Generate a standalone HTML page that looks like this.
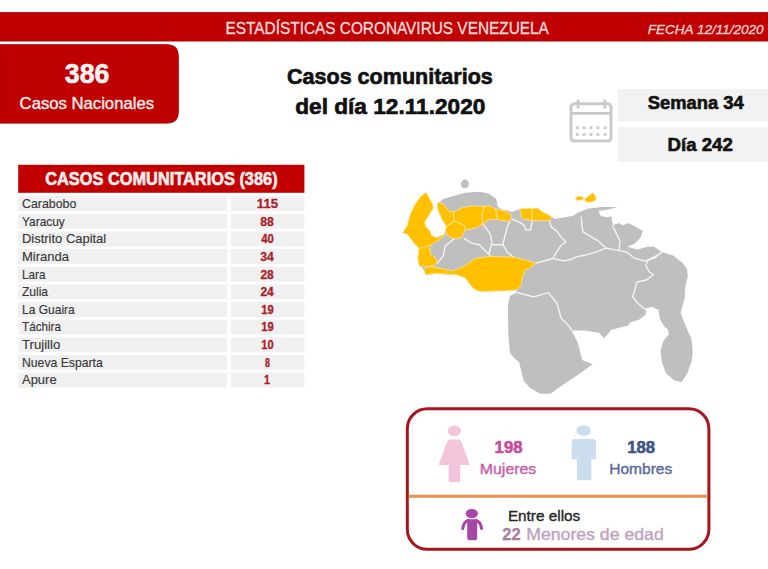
<!DOCTYPE html><html><head><meta charset="utf-8"><style>html,body{margin:0;padding:0;background:#fff;}svg{display:block;}text{font-family:"Liberation Sans",sans-serif;}</style></head><body>
<svg width="768" height="569" viewBox="0 0 768 569">
<rect x="0" y="0" width="768" height="569" fill="#FFFFFF"/>
<rect x="0" y="12.3" width="768" height="29" fill="#C00000"/>
<rect x="0" y="12.3" width="768" height="1.4" fill="#A80A0A"/>
<rect x="0" y="39.9" width="768" height="1.4" fill="#A80A0A"/>
<path d="M0,44.7 H167.3 Q178.3,44.7 178.3,55.7 V112.1 Q178.3,123.1 167.3,123.1 H0 Z" fill="#BF0000" stroke="#B00606" stroke-width="1"/>
<rect x="617.8" y="89.1" width="150.2" height="32.5" fill="#F2F2F2"/>
<rect x="617.8" y="127.2" width="150.2" height="34.6" fill="#F2F2F2"/>
<g fill="none" stroke="#CACACA" stroke-width="3"><rect x="571" y="103.8" width="40" height="37.3" rx="3.5"/><line x1="571" y1="113.4" x2="611" y2="113.4" stroke-width="2.8"/><line x1="578.1" y1="99.7" x2="578.1" y2="108.5"/><line x1="604.7" y1="99.7" x2="604.7" y2="108.5"/></g><g fill="#CDCDCD">
<rect x="575.70" y="126.20" width="3" height="3" rx="0.5"/>
<rect x="575.70" y="133.10" width="3" height="3" rx="0.5"/>
<rect x="582.50" y="126.20" width="3" height="3" rx="0.5"/>
<rect x="582.50" y="133.10" width="3" height="3" rx="0.5"/>
<rect x="589.50" y="126.20" width="3" height="3" rx="0.5"/>
<rect x="589.50" y="133.10" width="3" height="3" rx="0.5"/>
<rect x="596.40" y="126.20" width="3" height="3" rx="0.5"/>
<rect x="596.40" y="133.10" width="3" height="3" rx="0.5"/>
<rect x="603.70" y="126.20" width="3" height="3" rx="0.5"/>
<rect x="603.70" y="133.10" width="3" height="3" rx="0.5"/>
</g>
<rect x="18.2" y="164.8" width="286.2" height="28" fill="#C20000"/>
<rect x="18.3" y="196.20" width="208.7" height="14.9" fill="#F0F0F0"/>
<rect x="230.8" y="196.20" width="73.6" height="14.9" fill="#F0F0F0"/>
<rect x="18.3" y="213.84" width="208.7" height="14.9" fill="#F0F0F0"/>
<rect x="230.8" y="213.84" width="73.6" height="14.9" fill="#F0F0F0"/>
<rect x="18.3" y="231.48" width="208.7" height="14.9" fill="#F0F0F0"/>
<rect x="230.8" y="231.48" width="73.6" height="14.9" fill="#F0F0F0"/>
<rect x="18.3" y="249.12" width="208.7" height="14.9" fill="#F0F0F0"/>
<rect x="230.8" y="249.12" width="73.6" height="14.9" fill="#F0F0F0"/>
<rect x="18.3" y="266.76" width="208.7" height="14.9" fill="#F0F0F0"/>
<rect x="230.8" y="266.76" width="73.6" height="14.9" fill="#F0F0F0"/>
<rect x="18.3" y="284.40" width="208.7" height="14.9" fill="#F0F0F0"/>
<rect x="230.8" y="284.40" width="73.6" height="14.9" fill="#F0F0F0"/>
<rect x="18.3" y="302.04" width="208.7" height="14.9" fill="#F0F0F0"/>
<rect x="230.8" y="302.04" width="73.6" height="14.9" fill="#F0F0F0"/>
<rect x="18.3" y="319.68" width="208.7" height="14.9" fill="#F0F0F0"/>
<rect x="230.8" y="319.68" width="73.6" height="14.9" fill="#F0F0F0"/>
<rect x="18.3" y="337.32" width="208.7" height="14.9" fill="#F0F0F0"/>
<rect x="230.8" y="337.32" width="73.6" height="14.9" fill="#F0F0F0"/>
<rect x="18.3" y="354.96" width="208.7" height="14.9" fill="#F0F0F0"/>
<rect x="230.8" y="354.96" width="73.6" height="14.9" fill="#F0F0F0"/>
<rect x="18.3" y="372.60" width="208.7" height="14.9" fill="#F0F0F0"/>
<rect x="230.8" y="372.60" width="73.6" height="14.9" fill="#F0F0F0"/>
<polygon points="426.0,192.4 432.2,203.3 433.4,207.8 429.5,214.3 424.7,222.0 425.6,226.0 430.5,231.8 431.4,235.6 436.3,237.6 442.0,235.6 444.3,234.5 445.4,230.4 446.4,226.2 442.2,220.0 438.1,210.6 437.0,204.3 439.1,202.2 443.3,199.0 451.6,196.5 465.2,192.7 479.8,191.7 489.2,193.8 496.4,199.0 497.5,206.2 501.7,209.4 508.0,210.4 512.0,212.0 519.5,208.9 537.8,208.2 541.7,211.5 552.0,216.7 554.3,219.0 573.2,215.8 578.0,212.6 588.6,208.6 601.5,206.9 617.2,206.9 608.7,209.5 598.6,210.9 600.0,215.2 605.8,217.3 611.5,216.6 613.0,225.2 618.7,223.0 623.0,225.2 628.7,223.0 643.0,231.0 640.2,238.1 634.4,243.8 627.3,246.7 637.3,249.6 647.3,246.7 653.7,246.6 661.6,252.1 672.7,255.3 682.2,262.4 687.0,268.7 687.8,276.6 685.4,286.1 684.6,298.8 682.2,306.7 680.6,313.0 683.8,321.0 687.0,328.9 688.6,332.7 691.4,338.3 692.8,352.3 691.4,362.2 687.2,373.4 681.6,382.0 674.5,380.5 666.1,373.4 661.9,362.2 660.5,351.0 663.3,341.0 669.0,334.0 667.5,328.4 664.8,327.3 660.0,319.4 658.5,309.9 652.2,306.7 645.8,308.3 645.8,314.6 639.5,319.4 630.0,322.5 628.1,325.6 611.3,329.8 604.2,338.3 599.0,332.7 584.3,330.6 571.7,330.6 578.0,343.2 582.2,360.0 592.7,364.3 578.0,374.8 559.0,387.5 550.6,393.8 540.0,393.8 529.5,387.5 523.7,380.5 519.0,362.0 514.0,358.0 509.9,352.9 508.4,334.8 507.9,305.4 510.0,296.0 516.6,292.5 516.6,289.9 504.8,290.8 479.4,291.6 473.0,288.3 465.2,277.7 456.5,274.8 446.9,274.3 437.2,273.3 425.6,274.8 423.7,269.0 419.3,266.1 417.9,259.3 418.9,248.7 415.1,244.4 411.7,239.8 407.1,234.1 402.6,233.0 407.1,226.1 408.3,221.5 410.6,213.5 415.1,204.4 420.8,196.4" fill="#BFBFBF"/>
<polygon points="464.2,179.2 462.2,180.8 460.9,183.5 461.4,186.6 463.3,188.3 466.5,188.0 468.6,186.0 469.0,182.6 466.8,180.0" fill="#BFBFBF"/>
<polyline points="454.4,238.4 445.0,246.2 443.4,255.6 437.2,263.4" fill="none" stroke="#F4F4F4" stroke-width="1.4" stroke-linejoin="round"/>
<polyline points="463.8,238.4 471.6,243.1 479.4,244.7 484.0,249.4 488.8,254.0 490.3,256.4" fill="none" stroke="#F4F4F4" stroke-width="1.4" stroke-linejoin="round"/>
<polyline points="482.9,224.1 490.3,233.8 491.9,243.1 488.8,254.0" fill="none" stroke="#F4F4F4" stroke-width="1.4" stroke-linejoin="round"/>
<polyline points="491.9,244.7 502.8,244.7 507.5,226.0 510.0,221.2" fill="none" stroke="#F4F4F4" stroke-width="1.4" stroke-linejoin="round"/>
<polyline points="502.8,244.7 507.5,252.5 513.8,257.2" fill="none" stroke="#F4F4F4" stroke-width="1.4" stroke-linejoin="round"/>
<polyline points="511.5,219.0 519.5,222.1 524.2,225.3 525.8,230.0 530.6,230.0 532.1,220.6" fill="none" stroke="#F4F4F4" stroke-width="1.4" stroke-linejoin="round"/>
<polyline points="549.5,220.6 551.1,226.9 557.4,231.6 560.6,236.4 566.1,241.9 560.6,245.8 556.6,252.2 552.7,258.5 535.6,263.4" fill="none" stroke="#F4F4F4" stroke-width="1.4" stroke-linejoin="round"/>
<polyline points="552.7,258.5 563.8,260.9 571.7,259.3 576.4,256.9 584.3,255.3 595.4,252.2 606.4,248.2" fill="none" stroke="#F4F4F4" stroke-width="1.4" stroke-linejoin="round"/>
<polyline points="581.1,216.6 582.7,231.6 590.6,236.4 598.5,241.1 601.7,244.3 606.4,248.2" fill="none" stroke="#F4F4F4" stroke-width="1.4" stroke-linejoin="round"/>
<polyline points="606.4,248.2 619.1,250.6 627.0,252.2 634.4,258.2 644.5,261.0 654.5,258.2 661.6,252.1" fill="none" stroke="#F4F4F4" stroke-width="1.4" stroke-linejoin="round"/>
<polyline points="619.1,250.6 620.0,241.0 613.0,226.7 613.0,225.2" fill="none" stroke="#F4F4F4" stroke-width="1.4" stroke-linejoin="round"/>
<polyline points="661.6,252.1 658.5,254.5 648.2,260.2 645.6,265.4 649.5,272.0 653.4,274.5 646.9,279.7 636.5,282.3 635.2,288.9 632.6,296.7 637.8,303.2 645.8,310.0" fill="none" stroke="#F4F4F4" stroke-width="1.4" stroke-linejoin="round"/>
<polyline points="516.6,292.5 533.7,296.9 548.5,292.6 557.0,303.2 561.0,318.0 569.5,326.4 571.7,330.6" fill="none" stroke="#F4F4F4" stroke-width="1.4" stroke-linejoin="round"/>
<polygon points="426.0,192.4 432.2,203.3 433.4,207.8 429.5,214.3 424.7,222.0 425.6,226.0 430.5,231.8 431.4,235.6 436.3,237.6 442.0,235.6 445.0,234.5 443.4,236.9 435.7,242.0 428.8,246.6 420.8,248.9 415.1,244.4 411.7,239.8 407.1,234.1 402.6,233.0 407.1,226.1 408.3,221.5 410.6,213.5 415.1,204.4 420.8,196.4" fill="#FFC000" stroke="#FCE28A" stroke-width="0.9" stroke-linejoin="round"/>
<polygon points="418.9,248.7 429.5,245.8 430.5,254.5 435.3,257.4 437.2,262.2 434.3,265.6 429.5,266.1 419.3,266.1 417.9,259.3" fill="#FFC000" stroke="#FCE28A" stroke-width="0.9" stroke-linejoin="round"/>
<polygon points="423.7,269.0 429.5,266.6 439.2,268.0 451.7,270.9 460.4,268.0 467.2,264.2 475.0,258.4 490.3,256.4 513.8,257.2 532.5,261.9 535.6,263.4 528.5,268.8 525.8,269.6 522.6,275.9 521.1,285.4 516.6,289.9 504.8,290.8 479.4,291.6 473.0,288.3 465.2,277.7 456.5,274.8 446.9,274.3 437.2,273.3 425.6,274.8" fill="#FFC000" stroke="#FCE28A" stroke-width="0.9" stroke-linejoin="round"/>
<polygon points="439.1,202.2 443.3,204.3 448.5,210.6 453.4,212.2 456.8,210.6 463.0,207.5 472.5,205.9 482.9,206.4 490.2,205.9 494.3,208.5 500.6,210.1 506.8,211.6 510.5,214.2 511.5,218.9 508.9,221.0 500.6,220.5 496.4,218.9 488.0,220.0 482.9,224.1 477.7,227.2 470.4,229.3 465.2,229.3 463.6,233.5 461.0,237.7 453.7,238.7 447.5,235.6 445.4,230.4 446.4,226.2 442.2,220.0 438.1,210.6 437.0,204.3" fill="#FFC000" stroke="#FCE28A" stroke-width="0.9" stroke-linejoin="round"/>
<polygon points="519.5,208.9 537.8,208.2 541.7,211.5 552.0,216.7 549.5,220.6 540.0,220.6 532.1,220.6 522.0,218.5" fill="#FFC000" stroke="#FCE28A" stroke-width="0.9" stroke-linejoin="round"/>
<polygon points="575.4,198.0 578.0,196.0 582.7,197.0 584.0,199.0 580.0,200.3 576.0,200.0" fill="#FFC000" stroke="#FCE28A" stroke-width="0.9" stroke-linejoin="round"/>
<polygon points="584.0,200.0 586.5,197.5 590.0,195.0 592.6,192.8 595.5,196.0 596.2,199.5 592.0,202.0 587.0,202.2" fill="#FFC000" stroke="#FCE28A" stroke-width="0.9" stroke-linejoin="round"/>
<polyline points="453.4,212.2 454.2,221.0 446.4,226.2" fill="none" stroke="#FCE28A" stroke-width="1.1" stroke-linejoin="round"/>
<polyline points="454.2,221.0 464.1,225.2 465.2,229.3" fill="none" stroke="#FCE28A" stroke-width="1.1" stroke-linejoin="round"/>
<polyline points="483.9,206.4 481.8,216.8 482.9,224.1" fill="none" stroke="#FCE28A" stroke-width="1.1" stroke-linejoin="round"/>
<polyline points="495.4,208.5 497.5,217.9 496.4,218.9" fill="none" stroke="#FCE28A" stroke-width="1.1" stroke-linejoin="round"/>
<polyline points="532.1,208.5 532.1,220.6" fill="none" stroke="#FCE28A" stroke-width="1.1" stroke-linejoin="round"/>
<rect x="407.3" y="408.8" width="301.6" height="140.5" rx="20" fill="none" stroke="#A8141C" stroke-width="3"/>
<line x1="408.8" y1="496.3" x2="707.4" y2="496.3" stroke="#E8904F" stroke-width="3"/>
<g fill="#F4C4DA"><ellipse cx="454.4" cy="430.8" rx="6.6" ry="5.2"/><path d="M449.5,439.5 H458.5 Q460.5,439.5 461.3,441.5 L469.8,465 H460.2 V482.2 H448.7 V465 H438.6 L447.2,441.5 Q448,439.5 449.5,439.5 Z"/></g>
<g fill="#CADEEE"><ellipse cx="583.6" cy="430.6" rx="7.1" ry="5.3"/><path d="M575,439 H592.5 Q596.1,439 596.1,442.5 V459.3 H591.3 V480.2 H577 V459.3 H571.6 V442.5 Q571.6,439 575,439 Z"/></g>
<g fill="#A747A8"><ellipse cx="471.8" cy="513.6" rx="6.1" ry="4.7"/><path d="M467.2,519.2 H477.2 V537.8 Q477.2,540.3 474.7,540.3 H469.7 Q467.2,540.3 467.2,537.8 Z"/></g><path d="M468.5,520.5 Q463.6,521.5 462.8,528.6 M475.8,520.5 Q480.7,521.5 481.6,528.6" fill="none" stroke="#A747A8" stroke-width="3" stroke-linecap="round"/>
<text x="225.60" y="33.70" font-size="17.4" font-weight="normal" font-style="normal" fill="#F8DCDC" stroke="#F8DCDC" stroke-width="0.35" textLength="323.20" lengthAdjust="spacingAndGlyphs">ESTADÍSTICAS CORONAVIRUS VENEZUELA</text>
<text x="647.80" y="33.60" font-size="13.5" font-weight="normal" font-style="italic" fill="#F5CFCF" stroke="#F5CFCF" stroke-width="0.35" textLength="115.80" lengthAdjust="spacingAndGlyphs">FECHA 12/11/2020</text>
<text x="64.80" y="83.00" font-size="27.5" font-weight="bold" font-style="normal" fill="#FFF3F3" stroke="#FFF3F3" stroke-width="0.6" textLength="44.60" lengthAdjust="spacingAndGlyphs">386</text>
<text x="19.60" y="108.80" font-size="17" font-weight="normal" font-style="normal" fill="#FCEBEB" stroke="#FCEBEB" stroke-width="0.4" textLength="134.40" lengthAdjust="spacingAndGlyphs">Casos Nacionales</text>
<text x="287.00" y="83.60" font-size="22" font-weight="bold" font-style="normal" fill="#111111" stroke="#111111" stroke-width="0.65" textLength="205.80" lengthAdjust="spacingAndGlyphs">Casos comunitarios</text>
<text x="295.20" y="114.40" font-size="22" font-weight="bold" font-style="normal" fill="#111111" stroke="#111111" stroke-width="0.65" textLength="190.20" lengthAdjust="spacingAndGlyphs">del día 12.11.2020</text>
<text x="647.80" y="109.40" font-size="18" font-weight="bold" font-style="normal" fill="#111111" stroke="#111111" stroke-width="0.6" textLength="95.80" lengthAdjust="spacingAndGlyphs">Semana 34</text>
<text x="667.60" y="151.40" font-size="18.5" font-weight="bold" font-style="normal" fill="#111111" stroke="#111111" stroke-width="0.6" textLength="65.20" lengthAdjust="spacingAndGlyphs">Día 242</text>
<text x="45.20" y="185.30" font-size="17.5" font-weight="bold" font-style="normal" fill="#FBEDED" stroke="#FBEDED" stroke-width="0.6" textLength="232.40" lengthAdjust="spacingAndGlyphs">CASOS COMUNITARIOS (386)</text>
<text x="22.00" y="208.00" font-size="12.2" font-weight="normal" font-style="normal" fill="#383838" stroke="#383838" stroke-width="0.15" textLength="54.40" lengthAdjust="spacingAndGlyphs">Carabobo</text>
<text x="256.80" y="208.00" font-size="12.6" font-weight="bold" font-style="normal" fill="#A91F2C" stroke="#A91F2C" stroke-width="0.3" textLength="21.20" lengthAdjust="spacingAndGlyphs">115</text>
<text x="22.00" y="225.64" font-size="12.2" font-weight="normal" font-style="normal" fill="#383838" stroke="#383838" stroke-width="0.15" textLength="42.80" lengthAdjust="spacingAndGlyphs">Yaracuy</text>
<text x="260.20" y="225.64" font-size="12.6" font-weight="bold" font-style="normal" fill="#A91F2C" stroke="#A91F2C" stroke-width="0.3" textLength="13.60" lengthAdjust="spacingAndGlyphs">88</text>
<text x="22.00" y="243.28" font-size="12.2" font-weight="normal" font-style="normal" fill="#383838" stroke="#383838" stroke-width="0.15" textLength="84.20" lengthAdjust="spacingAndGlyphs">Distrito Capital</text>
<text x="261.20" y="243.28" font-size="12.6" font-weight="bold" font-style="normal" fill="#A91F2C" stroke="#A91F2C" stroke-width="0.3" textLength="12.60" lengthAdjust="spacingAndGlyphs">40</text>
<text x="22.00" y="260.92" font-size="12.2" font-weight="normal" font-style="normal" fill="#383838" stroke="#383838" stroke-width="0.15" textLength="47.00" lengthAdjust="spacingAndGlyphs">Miranda</text>
<text x="260.20" y="260.92" font-size="12.6" font-weight="bold" font-style="normal" fill="#A91F2C" stroke="#A91F2C" stroke-width="0.3" textLength="13.60" lengthAdjust="spacingAndGlyphs">34</text>
<text x="22.00" y="278.56" font-size="12.2" font-weight="normal" font-style="normal" fill="#383838" stroke="#383838" stroke-width="0.15" textLength="23.40" lengthAdjust="spacingAndGlyphs">Lara</text>
<text x="260.40" y="278.56" font-size="12.6" font-weight="bold" font-style="normal" fill="#A91F2C" stroke="#A91F2C" stroke-width="0.3" textLength="13.40" lengthAdjust="spacingAndGlyphs">28</text>
<text x="22.00" y="296.20" font-size="12.2" font-weight="normal" font-style="normal" fill="#383838" stroke="#383838" stroke-width="0.15" textLength="26.00" lengthAdjust="spacingAndGlyphs">Zulia</text>
<text x="260.40" y="296.20" font-size="12.6" font-weight="bold" font-style="normal" fill="#A91F2C" stroke="#A91F2C" stroke-width="0.3" textLength="13.40" lengthAdjust="spacingAndGlyphs">24</text>
<text x="22.00" y="313.84" font-size="12.2" font-weight="normal" font-style="normal" fill="#383838" stroke="#383838" stroke-width="0.15" textLength="52.80" lengthAdjust="spacingAndGlyphs">La Guaira</text>
<text x="261.20" y="313.84" font-size="12.6" font-weight="bold" font-style="normal" fill="#A91F2C" stroke="#A91F2C" stroke-width="0.3" textLength="12.40" lengthAdjust="spacingAndGlyphs">19</text>
<text x="22.00" y="331.48" font-size="12.2" font-weight="normal" font-style="normal" fill="#383838" stroke="#383838" stroke-width="0.15" textLength="39.00" lengthAdjust="spacingAndGlyphs">Táchira</text>
<text x="261.20" y="331.48" font-size="12.6" font-weight="bold" font-style="normal" fill="#A91F2C" stroke="#A91F2C" stroke-width="0.3" textLength="12.40" lengthAdjust="spacingAndGlyphs">19</text>
<text x="22.00" y="349.12" font-size="12.2" font-weight="normal" font-style="normal" fill="#383838" stroke="#383838" stroke-width="0.15" textLength="38.20" lengthAdjust="spacingAndGlyphs">Trujillo</text>
<text x="261.20" y="349.12" font-size="12.6" font-weight="bold" font-style="normal" fill="#A91F2C" stroke="#A91F2C" stroke-width="0.3" textLength="12.40" lengthAdjust="spacingAndGlyphs">10</text>
<text x="22.00" y="366.76" font-size="12.2" font-weight="normal" font-style="normal" fill="#383838" stroke="#383838" stroke-width="0.15" textLength="80.80" lengthAdjust="spacingAndGlyphs">Nueva Esparta</text>
<text x="265.00" y="366.76" font-size="12.6" font-weight="bold" font-style="normal" fill="#A91F2C" stroke="#A91F2C" stroke-width="0.3" textLength="5.00" lengthAdjust="spacingAndGlyphs">8</text>
<text x="22.00" y="384.40" font-size="12.2" font-weight="normal" font-style="normal" fill="#383838" stroke="#383838" stroke-width="0.15" textLength="34.60" lengthAdjust="spacingAndGlyphs">Apure</text>
<text x="264.00" y="384.40" font-size="12.6" font-weight="bold" font-style="normal" fill="#A91F2C" stroke="#A91F2C" stroke-width="0.3" textLength="6.00" lengthAdjust="spacingAndGlyphs">1</text>
<text x="494.60" y="452.50" font-size="15.7" font-weight="bold" font-style="normal" fill="#C84A9B" stroke="#C84A9B" stroke-width="0.55" textLength="27.90" lengthAdjust="spacingAndGlyphs">198</text>
<text x="479.80" y="473.60" font-size="14.9" font-weight="normal" font-style="normal" fill="#C562AA" stroke="#C562AA" stroke-width="0.4" textLength="56.50" lengthAdjust="spacingAndGlyphs">Mujeres</text>
<text x="627.20" y="452.50" font-size="16.0" font-weight="bold" font-style="normal" fill="#3D5589" stroke="#3D5589" stroke-width="0.55" textLength="27.80" lengthAdjust="spacingAndGlyphs">188</text>
<text x="609.20" y="473.50" font-size="14.7" font-weight="normal" font-style="normal" fill="#596C9A" stroke="#596C9A" stroke-width="0.4" textLength="63.10" lengthAdjust="spacingAndGlyphs">Hombres</text>
<text x="507.90" y="520.50" font-size="14.6" font-weight="normal" font-style="normal" fill="#252525" stroke="#252525" stroke-width="0.35" textLength="72.30" lengthAdjust="spacingAndGlyphs">Entre ellos</text>
<text x="502.20" y="540.00" font-size="16.6" font-weight="bold" font-style="normal" fill="#A77E9F" stroke="#A77E9F" stroke-width="0.3" textLength="18.40" lengthAdjust="spacingAndGlyphs">22</text>
<text x="526.20" y="540.00" font-size="16.5" font-weight="normal" font-style="normal" fill="#C0A2BE" stroke="#C0A2BE" stroke-width="0.35" textLength="137.60" lengthAdjust="spacingAndGlyphs">Menores de edad</text>
</svg></body></html>
